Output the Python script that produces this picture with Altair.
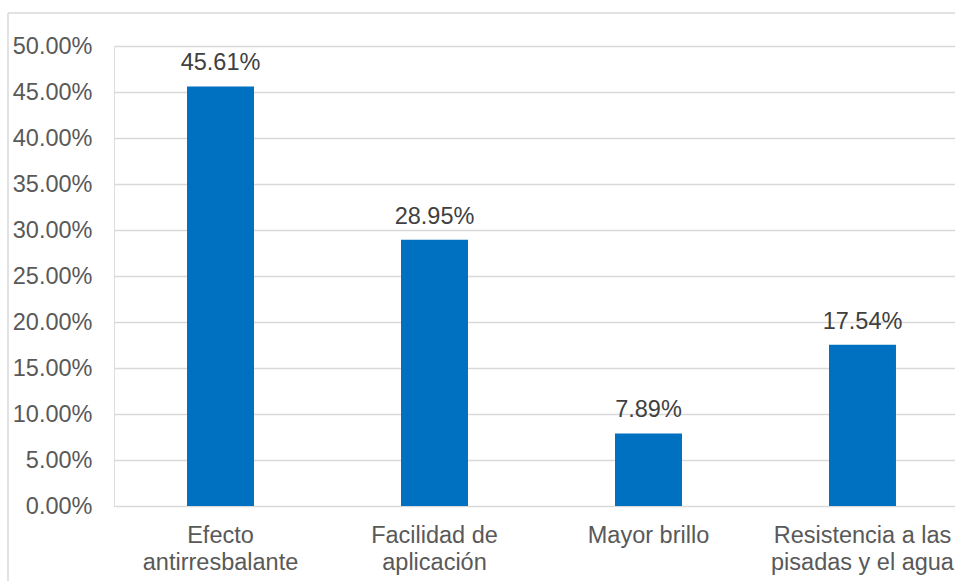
import altair as alt
import pandas as pd

categories = ["Efecto|antirresbalante", "Facilidad de|aplicación", "Mayor brillo", "Resistencia a las|pisadas y el agua"]
values = [0.4561, 0.2895, 0.0789, 0.1754]
y_ticks = [0.0, 0.05, 0.10, 0.15, 0.20, 0.25, 0.30, 0.35, 0.40, 0.45, 0.50]

df = pd.DataFrame({"cat": categories, "val": values})

FONT = "Liberation Sans"
FS = 23.5

x_enc = alt.X(
    "cat:N", sort=None, title=None,
    scale=alt.Scale(paddingInner=0.687, paddingOuter=0.3085, align=0.553),
    axis=alt.Axis(labelExpr="split(datum.label, '|')", labelAngle=0, ticks=False, domain=False,
                  labelFont=FONT, labelFontSize=FS, labelColor="#595959", labelPadding=17,
                  labelLineHeight=27, labelLimit=400),
)
y_enc = alt.Y(
    "val:Q", title=None,
    scale=alt.Scale(domain=[0, 0.5], nice=False),
    axis=alt.Axis(values=y_ticks, format=".2%", ticks=False, domain=False,
                  labelFont=FONT, labelFontSize=FS, labelColor="#595959", labelPadding=22,
                  gridColor="#d9d9d9", gridWidth=1.5),
)

bars = alt.Chart(df).mark_bar(color="#0070C0").encode(x=x_enc, y=y_enc)
labels = alt.Chart(df).mark_text(
    baseline="bottom", dy=-11, font=FONT, fontSize=FS, color="#404040"
).encode(x=alt.X("cat:N", sort=None), y="val:Q", text=alt.Text("val:Q", format=".2%"))

frame = alt.Chart(pd.DataFrame({"a": [0]}))
top_line = frame.mark_rule(color="#d9d9d9", strokeWidth=1.5, clip=False).encode(
    x=alt.value(-106), x2=alt.value(900), y=alt.value(-33))
left_line = frame.mark_rule(color="#d9d9d9", strokeWidth=1.5, clip=False).encode(
    x=alt.value(-106), y=alt.value(-33), y2=alt.value(600))

chart = alt.layer(bars, labels, top_line, left_line).properties(
    width=841, height=460,
    autosize=alt.AutoSizeParams(type="none"),
    padding={"left": 114, "top": 46, "right": 0, "bottom": 75},
).configure_view(stroke=None).configure(background="white")

chart.save("out.html", embed_options={"renderer": "svg", "actions": False})
